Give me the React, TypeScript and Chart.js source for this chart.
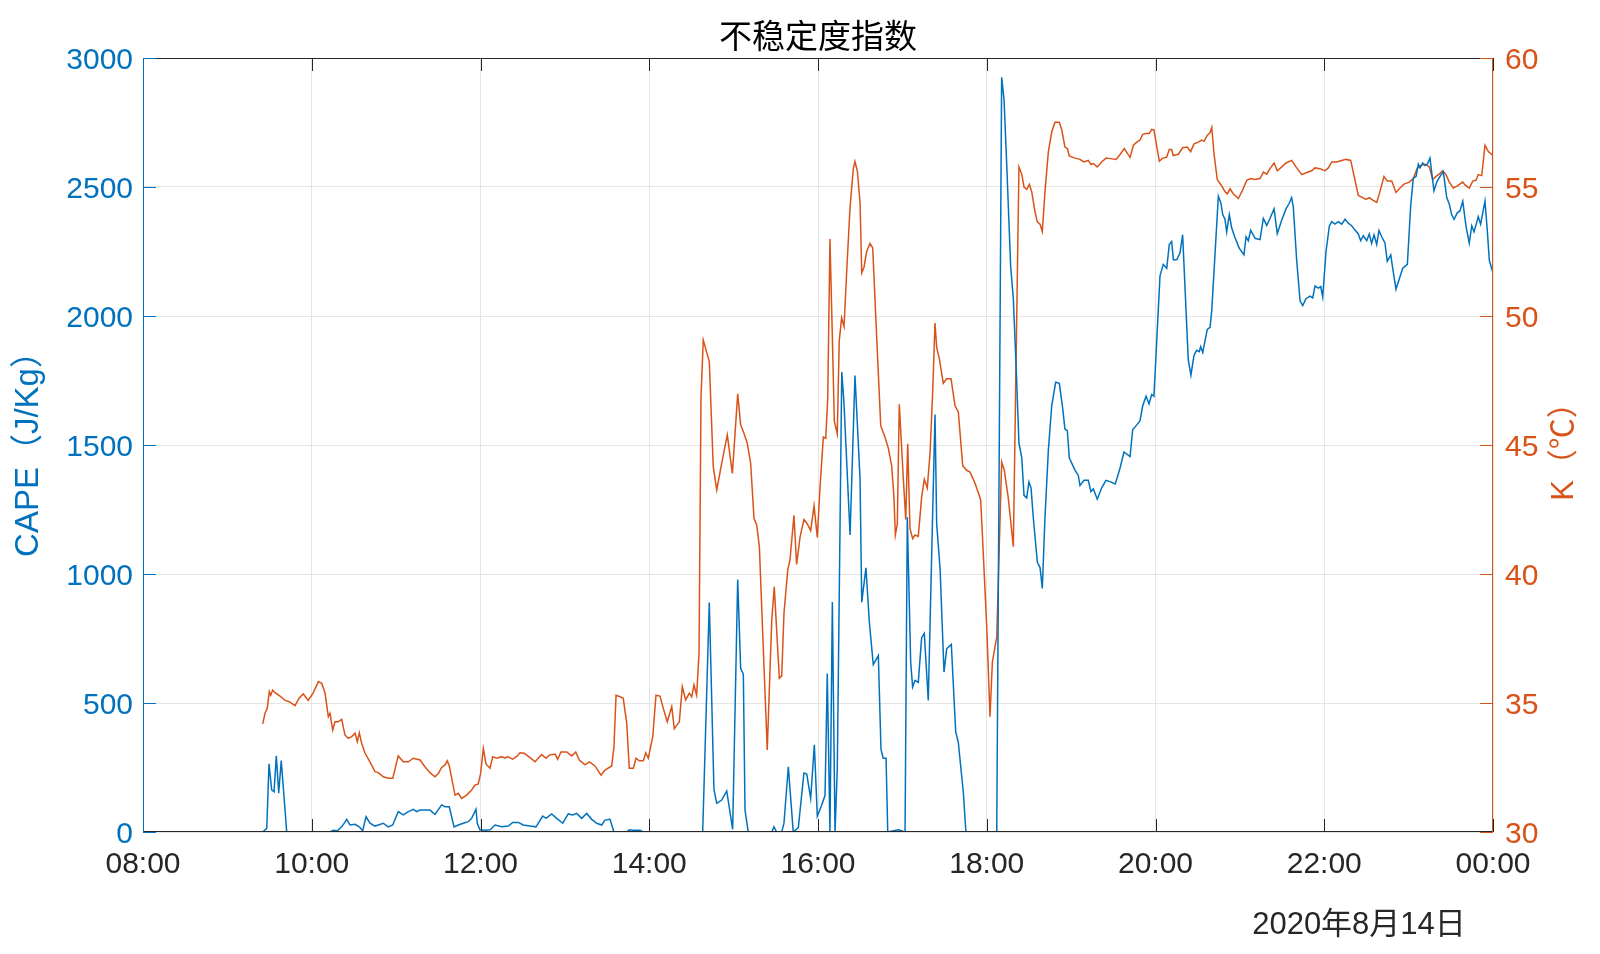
import React, { useEffect, useRef } from "react";
import { Chart, registerables } from "chart.js";

Chart.register(...registerables);

// ---------- text ----------
const chartTitle = "不稳定度指数";
const dateLabel = "2020年8月14日";
const capeAxisTitle = "CAPE（J/Kg）";
const kAxisTitle = "K（℃）";

// ---------- ticks ----------
const xTickMinutes = [480, 600, 720, 840, 960, 1080, 1200, 1320, 1440];
const xTickLabels = ["08:00", "10:00", "12:00", "14:00", "16:00", "18:00", "20:00", "22:00", "00:00"];
const capeTicks = [0, 500, 1000, 1500, 2000, 2500, 3000];
const kTicks = [30, 35, 40, 45, 50, 55, 60];

// ---------- CAPE series (time = minutes of the day) ----------
const capeTime = [
  565.1, 568.0, 569.6, 571.5, 573.2, 574.8, 576.5, 578.3, 582.2, 613.0,
  615.3, 618.2, 621.3, 624.9, 627.2, 630.8, 633.8, 636.2, 638.6, 641.4,
  645.0, 647.3, 650.9, 654.4, 657.6, 661.5, 665.1, 668.7, 672.2, 674.6,
  677.0, 680.5, 684.1, 687.6, 692.4, 694.8, 697.8, 701.2, 704.2, 707.8,
  711.3, 713.7, 716.8, 717.7, 719.6, 723.2, 726.8, 730.3, 735.1, 739.8,
  742.9, 746.9, 750.4, 755.2, 759.5, 761.8, 764.2, 766.6, 770.6, 774.2,
  778.5, 782.4, 785.6, 788.4, 792.0, 795.5, 799.1, 802.6, 806.2, 808.5,
  812.1, 814.9, 824.0, 825.8, 828.4, 833.4, 835.6, 878.0, 882.7, 886.0,
  888.0, 891.5, 895.1, 899.3, 902.9, 905.0, 906.9, 908.1, 910.4, 927.1,
  928.7, 930.6, 934.2, 935.8, 938.9, 942.4, 946.0, 950.0, 952.0, 954.8,
  957.4, 959.5, 962.6, 965.0, 966.6, 968.5, 970.2, 972.1, 973.7, 976.9,
  978.5, 982.8, 986.3, 989.9, 991.1, 994.1, 996.5, 999.3, 1002.9, 1004.8,
  1006.4, 1008.4, 1009.6, 1017.1, 1021.9, 1023.5, 1025.9, 1027.3, 1029.0, 1031.3,
  1033.7, 1035.6, 1038.4, 1043.2, 1044.4, 1046.8, 1049.6, 1051.5, 1054.8, 1057.9,
  1059.8, 1063.3, 1065.2, 1087.1, 1090.6, 1092.3, 1094.2, 1097.0, 1098.9, 1100.8,
  1102.9, 1104.9, 1106.5, 1108.4, 1110.0, 1111.5, 1113.1, 1116.0, 1117.9, 1119.5,
  1121.4, 1123.8, 1126.2, 1129.0, 1131.6, 1134.0, 1135.6, 1137.3, 1138.7, 1142.8,
  1145.1, 1146.3, 1149.2, 1152.2, 1154.1, 1155.8, 1158.6, 1161.7, 1164.8, 1168.1,
  1171.4, 1174.8, 1177.6, 1181.9, 1183.8, 1186.6, 1189.0, 1190.9, 1193.3, 1195.4,
  1197.3, 1198.9, 1203.2, 1205.5, 1208.0, 1209.8, 1211.5, 1212.7, 1215.1, 1217.4,
  1219.3, 1223.3, 1225.2, 1227.4, 1229.3, 1231.1, 1232.1, 1233.6, 1236.8, 1238.8,
  1240.0, 1244.7, 1246.4, 1247.8, 1249.4, 1250.6, 1252.5, 1254.2, 1256.5, 1259.6,
  1262.9, 1264.4, 1266.0, 1267.7, 1270.8, 1274.3, 1276.7, 1279.1, 1281.4, 1284.3,
  1286.6, 1289.7, 1292.8, 1295.1, 1296.8, 1298.0, 1300.4, 1302.8, 1304.7, 1307.0,
  1309.9, 1311.8, 1313.4, 1315.8, 1317.5, 1318.9, 1321.3, 1323.6, 1325.3, 1327.6,
  1330.0, 1332.4, 1334.8, 1337.1, 1339.5, 1341.9, 1344.2, 1345.9, 1347.8, 1350.2,
  1352.0, 1353.7, 1355.4, 1357.3, 1358.9, 1360.9, 1363.2, 1364.8, 1367.3, 1368.7,
  1371.0, 1373.4, 1375.8, 1379.1, 1381.5, 1383.3, 1385.3, 1386.9, 1388.1, 1390.0,
  1391.7, 1393.3, 1395.2, 1398.0, 1400.0, 1402.3, 1404.7, 1407.1, 1408.9, 1410.6,
  1412.3, 1414.6, 1416.5, 1418.5, 1420.8, 1423.1, 1424.9, 1426.5, 1428.4, 1429.5,
  1431.2, 1432.7, 1434.3, 1436.0, 1437.4, 1439.8,
];
const capeValue = [
  0, 14, 264, 163, 156, 295, 150, 277, 0, 0,
  7, 5, 20, 49, 27, 30, 20, 5, 59, 34,
  23, 27, 34, 20, 27, 79, 66, 79, 88, 79,
  85, 85, 85, 68, 105, 98, 98, 20, 27, 34,
  40, 53, 88, 34, 9, 7, 9, 27, 20, 23,
  37, 37, 27, 23, 20, 40, 62, 53, 70, 53,
  34, 70, 66, 72, 53, 72, 49, 34, 27, 46,
  49, 0, 0, 9, 7, 7, 0, 0, 889, 165,
  111, 124, 159, 10, 979, 634, 612, 85, 0, 0,
  20, 0, 0, 34, 253, 0, 17, 229, 225, 130,
  338, 61, 104, 142, 614, 0, 891, 0, 242, 1783,
  1661, 1151, 1769, 1367, 891, 1024, 814, 649, 684, 320,
  286, 286, 0, 9, 0, 1220, 658, 562, 588, 580,
  753, 770, 510, 1618, 1194, 1021, 620, 710, 727, 390,
  346, 156, 0, 0, 2925, 2838, 2587, 2192, 2067, 1816,
  1508, 1450, 1305, 1295, 1357, 1334, 1218, 1045, 1025, 944,
  1218, 1479, 1652, 1743, 1739, 1642, 1562, 1556, 1450, 1402,
  1382, 1343, 1363, 1363, 1319, 1330, 1290, 1334, 1363, 1357,
  1349, 1411, 1473, 1455, 1560, 1577, 1594, 1652, 1689, 1659,
  1696, 1689, 2156, 2200, 2185, 2277, 2289, 2218, 2218, 2244,
  2315, 1830, 1771, 1848, 1867, 1862, 1881, 1859, 1948, 1956,
  2022, 2464, 2440, 2393, 2375, 2326, 2393, 2341, 2304, 2262,
  2237, 2307, 2292, 2333, 2301, 2296, 2378, 2351, 2378, 2415,
  2319, 2371, 2415, 2437, 2459, 2422, 2215, 2059, 2040, 2067,
  2077, 2070, 2116, 2108, 2114, 2074, 2252, 2348, 2366, 2356,
  2366, 2356, 2375, 2360, 2350, 2333, 2318, 2292, 2311, 2292,
  2318, 2282, 2315, 2277, 2331, 2307, 2282, 2212, 2237, 2185,
  2104, 2144, 2185, 2200, 2430, 2533, 2541, 2588, 2574, 2593,
  2583, 2588, 2612, 2485, 2519, 2541, 2559, 2459, 2434, 2393,
  2375, 2400, 2407, 2445, 2348, 2282, 2350, 2326, 2363, 2385,
  2356, 2400, 2445, 2326, 2215, 2170,
];

// ---------- K index series (time = minutes of the day) ----------
const kTime = [
  565.1, 566.8, 568.4, 569.8, 570.8, 572.2, 573.9, 577.4, 581.0, 584.0,
  588.1, 591.1, 594.0, 597.5, 601.1, 604.7, 607.1, 609.4, 611.8, 613.0,
  614.9, 616.5, 618.9, 621.3, 623.6, 626.0, 628.4, 630.8, 632.4, 633.8,
  635.5, 637.9, 641.4, 645.0, 647.3, 650.9, 654.4, 657.6, 661.5, 665.1,
  668.7, 672.2, 677.0, 680.5, 684.1, 687.6, 690.0, 692.4, 694.8, 696.4,
  697.8, 701.9, 704.2, 706.6, 710.2, 713.7, 716.1, 718.4, 720.1, 722.0,
  723.9, 726.8, 728.7, 731.5, 735.1, 737.4, 739.1, 742.9, 746.2, 748.1,
  751.1, 755.2, 758.8, 763.5, 766.6, 768.9, 773.0, 774.9, 777.2, 781.3,
  784.9, 787.7, 790.3, 794.3, 797.4, 801.4, 805.7, 808.5, 813.3, 814.9,
  816.4, 819.2, 821.5, 824.0, 825.8, 828.7, 830.6, 832.9, 835.8, 837.5,
  839.3, 842.5, 844.8, 847.6, 850.0, 852.8, 856.0, 857.8, 861.4, 863.5,
  865.9, 868.5, 870.2, 871.8, 873.7, 875.4, 876.8, 878.4, 882.7, 885.5,
  888.0, 891.5, 895.5, 899.1, 902.9, 905.0, 907.4, 909.7, 912.1, 914.5,
  916.4, 918.3, 923.9, 927.1, 928.9, 932.5, 934.2, 935.8, 938.5, 940.1,
  942.9, 944.8, 947.2, 950.0, 952.4, 954.8, 957.2, 959.5, 961.4, 963.8,
  965.5, 966.9, 968.5, 970.2, 971.6, 973.7, 975.1, 976.8, 978.5, 980.8,
  982.8, 985.1, 986.3, 988.0, 989.9, 991.1, 992.7, 994.6, 997.0, 998.9,
  1001.7, 1004.6, 1007.6, 1010.0, 1012.4, 1014.0, 1015.0, 1016.4, 1017.8, 1020.7,
  1022.4, 1023.8, 1025.4, 1027.3, 1029.0, 1031.3, 1033.7, 1035.6, 1037.7, 1039.7,
  1041.6, 1043.2, 1044.4, 1046.3, 1049.1, 1051.5, 1054.6, 1057.4, 1059.8, 1062.9,
  1065.7, 1068.1, 1071.6, 1074.0, 1075.7, 1077.5, 1080.0, 1082.3, 1084.0, 1087.1,
  1090.6, 1092.5, 1095.3, 1098.9, 1102.9, 1104.9, 1106.5, 1108.4, 1110.3, 1112.0,
  1114.3, 1115.9, 1117.9, 1119.5, 1121.4, 1123.8, 1126.2, 1128.5, 1131.6, 1133.3,
  1135.6, 1137.3, 1138.7, 1142.8, 1146.3, 1149.1, 1152.2, 1154.1, 1155.8, 1158.6,
  1161.7, 1164.8, 1168.1, 1171.9, 1174.8, 1177.8, 1180.0, 1181.9, 1184.3, 1186.7,
  1189.0, 1190.9, 1193.3, 1195.6, 1197.3, 1198.9, 1202.7, 1205.1, 1207.9, 1209.8,
  1211.5, 1212.6, 1216.2, 1219.3, 1222.6, 1225.0, 1227.4, 1230.4, 1232.8, 1234.5,
  1236.8, 1238.7, 1240.0, 1241.6, 1243.9, 1247.1, 1249.4, 1251.1, 1253.0, 1255.3,
  1258.9, 1262.0, 1264.9, 1267.7, 1270.8, 1274.3, 1276.7, 1279.1, 1281.4, 1284.3,
  1286.6, 1289.8, 1292.8, 1296.9, 1299.9, 1304.0, 1307.5, 1311.1, 1313.4, 1317.0,
  1320.5, 1322.9, 1325.3, 1328.9, 1332.4, 1335.5, 1338.8, 1341.9, 1344.2, 1347.3,
  1349.7, 1352.0, 1354.5, 1357.3, 1359.6, 1362.5, 1364.8, 1368.0, 1371.0, 1373.9,
  1376.7, 1380.5, 1383.3, 1386.2, 1389.3, 1392.3, 1394.7, 1397.1, 1399.5, 1402.3,
  1404.2, 1406.6, 1408.9, 1411.8, 1414.6, 1418.5, 1420.1, 1423.1, 1425.6, 1427.9,
  1429.5, 1432.0, 1434.3, 1436.7, 1439.8,
];
const kValue = [
  34.19, 34.6, 34.8, 35.44, 35.3, 35.5, 35.4, 35.27, 35.1, 35.05,
  34.9, 35.2, 35.35, 35.1, 35.4, 35.83, 35.76, 35.4, 34.47, 34.6,
  33.95, 34.27, 34.27, 34.37, 33.76, 33.63, 33.7, 33.83, 33.5, 33.85,
  33.44, 33.05, 32.72, 32.34, 32.3, 32.14, 32.08, 32.08, 32.95, 32.72,
  32.72, 32.86, 32.79, 32.53, 32.3, 32.14, 32.27, 32.5, 32.6, 32.76,
  32.56, 31.43, 31.5, 31.3, 31.43, 31.63, 31.82, 31.86, 32.27, 33.24,
  32.64, 32.47, 32.92, 32.86, 32.92, 32.86, 32.92, 32.82, 32.95, 33.07,
  33.05, 32.88, 32.72, 33.0, 32.86, 32.98, 33.02, 32.82, 33.1, 33.1,
  32.95, 33.1, 32.79, 32.6, 32.72, 32.56, 32.2, 32.4, 32.56, 33.3,
  35.3, 35.24, 35.18, 34.21, 32.47, 32.47, 32.86, 32.76, 32.76, 33.07,
  32.86, 33.7, 35.3, 35.27, 34.79, 34.27, 34.86, 34.0, 34.27, 35.63,
  35.12, 35.38, 35.24, 35.7, 35.3, 36.93, 46.87, 49.07, 48.23, 44.16,
  43.26, 44.29, 45.39, 43.9, 46.98, 45.78, 45.45, 45.07, 44.29, 42.16,
  41.9, 41.06, 33.18, 38.2, 39.5, 35.96, 36.05, 38.48, 40.16, 40.56,
  42.27, 40.37, 41.42, 42.11, 41.94, 41.68, 42.64, 41.42, 43.33, 45.31,
  45.26, 46.79, 52.98, 49.21, 45.92, 45.43, 49.03, 49.93, 49.59, 52.15,
  54.22, 55.7, 55.99, 55.61, 54.4, 51.67, 51.89, 52.5, 52.81, 52.64,
  49.21, 45.75, 45.31, 44.88, 44.19, 42.98, 41.51, 41.94, 46.58, 43.67,
  42.11, 45.05, 41.77, 41.37, 41.51, 41.46, 42.98, 43.67, 43.33, 44.71,
  47.13, 49.73, 48.78, 48.34, 47.39, 47.57, 47.57, 46.53, 46.27, 44.2,
  44.02, 43.95, 43.53, 43.15, 42.86, 40.83, 37.94, 34.47, 36.59, 37.55,
  44.34, 44.02, 42.95, 41.06, 55.78, 55.49, 55.0, 54.91, 55.1, 54.81,
  54.04, 53.65, 53.56, 53.27, 54.81, 56.36, 57.13, 57.51, 57.51, 57.22,
  56.55, 56.49, 56.2, 56.12, 56.07, 55.97, 56.03, 55.87, 55.91, 55.78,
  55.97, 56.12, 56.1, 56.07, 56.26, 56.49, 56.3, 56.15, 56.62, 56.74,
  56.82, 57.04, 57.07, 57.07, 57.23, 57.21, 56.0, 56.12, 56.15, 56.45,
  56.45, 56.22, 56.27, 56.52, 56.55, 56.37, 56.67, 56.74, 56.82, 56.77,
  57.0, 57.1, 57.31, 56.3, 55.29, 55.04, 54.82, 54.74, 54.93, 54.74,
  54.55, 54.89, 55.26, 55.33, 55.29, 55.33, 55.58, 55.5, 55.71, 55.93,
  55.63, 55.78, 55.93, 56.03, 55.78, 55.48, 55.56, 55.63, 55.74, 55.71,
  55.63, 55.74, 55.97, 55.97, 56.03, 56.07, 56.03, 55.26, 54.67, 54.59,
  54.52, 54.59, 54.49, 54.4, 54.82, 55.41, 55.23, 55.23, 54.79, 54.96,
  55.11, 55.19, 55.33, 55.74, 55.85, 55.88, 55.78, 55.29, 55.41, 55.53,
  55.63, 55.48, 55.19, 54.96, 55.04, 55.19, 55.08, 54.96, 55.23, 55.26,
  55.48, 55.44, 56.62, 56.37, 56.22,
];

// ---------- styles ----------
const BLUE = "#0072BD";
const ORANGE = "#D95319";
const AXIS = "#262626";
const GRID = "#e5e5e5";
const LATIN = '"Liberation Sans", Arial, "Noto Sans CJK SC", sans-serif';
const CJK = '"Noto Sans CJK SC", sans-serif';
const TICK_LEN = 13;
const TICK_FONT = 30;

const decorPlugin = {
  id: "decor",
  afterDatasetsDraw(chart: any) {
    const { ctx, chartArea: a, scales } = chart;
    ctx.save();
    ctx.lineWidth = 1;
    // box
    ctx.strokeStyle = AXIS;
    ctx.beginPath();
    ctx.moveTo(a.left, a.top + 0.5);
    ctx.lineTo(a.right, a.top + 0.5);
    ctx.moveTo(a.left, a.bottom - 0.5);
    ctx.lineTo(a.right, a.bottom - 0.5);
    ctx.stroke();
    // x ticks (inward, top and bottom)
    ctx.beginPath();
    for (const v of xTickMinutes) {
      const px = Math.round(scales.x.getPixelForValue(v)) + 0.5;
      ctx.moveTo(px, a.bottom);
      ctx.lineTo(px, a.bottom - TICK_LEN);
      ctx.moveTo(px, a.top);
      ctx.lineTo(px, a.top + TICK_LEN);
    }
    ctx.stroke();
    // left axis
    ctx.strokeStyle = BLUE;
    ctx.beginPath();
    ctx.moveTo(a.left + 0.5, a.top);
    ctx.lineTo(a.left + 0.5, a.bottom);
    for (const v of capeTicks) {
      const py = Math.round(scales.y.getPixelForValue(v)) + 0.5;
      ctx.moveTo(a.left, py);
      ctx.lineTo(a.left + TICK_LEN, py);
    }
    ctx.stroke();
    // right axis
    ctx.strokeStyle = ORANGE;
    ctx.beginPath();
    ctx.moveTo(a.right - 0.5, a.top);
    ctx.lineTo(a.right - 0.5, a.bottom);
    for (const v of kTicks) {
      const py = Math.round(scales.y1.getPixelForValue(v)) + 0.5;
      ctx.moveTo(a.right, py);
      ctx.lineTo(a.right - TICK_LEN, py);
    }
    ctx.stroke();
    ctx.restore();
  },
  afterDraw(chart: any) {
    const { ctx, chartArea: a } = chart;
    ctx.save();
    ctx.textAlign = "center";
    ctx.textBaseline = "middle";
    // title
    ctx.fillStyle = "#000000";
    ctx.font = `33px ${CJK}`;
    ctx.fillText(chartTitle, (a.left + a.right) / 2, 35);
    // date label
    ctx.fillStyle = AXIS;
    ctx.font = `31px ${LATIN}`;
    ctx.fillText(dateLabel, 1359, 925);
    // left axis title
    ctx.save();
    ctx.translate(29, 446);
    ctx.rotate(-Math.PI / 2);
    ctx.fillStyle = BLUE;
    ctx.font = `33px ${LATIN}`;
    ctx.fillText(capeAxisTitle, 0, 0);
    ctx.restore();
    // right axis title
    ctx.save();
    ctx.translate(1564, 444);
    ctx.rotate(-Math.PI / 2);
    ctx.fillStyle = ORANGE;
    ctx.font = `31px ${LATIN}`;
    ctx.fillText(kAxisTitle, 0, 0);
    ctx.restore();
    ctx.restore();
  },
};

export default function App() {
  const canvasRef = useRef<HTMLCanvasElement | null>(null);

  useEffect(() => {
    document.body.style.margin = "0";
    const canvas = canvasRef.current;
    if (!canvas) return;
    const capeData = capeTime.map((t, i) => ({ x: t, y: capeValue[i] }));
    const kData = kTime.map((t, i) => ({ x: t, y: kValue[i] }));

    const chart = new Chart(canvas, {
      type: "line",
      data: {
        datasets: [
          {
            label: "CAPE",
            data: capeData,
            yAxisID: "y",
            borderColor: BLUE,
            borderWidth: 1.5,
            pointRadius: 0,
            tension: 0,
            fill: false,
          },
          {
            label: "K",
            data: kData,
            yAxisID: "y1",
            borderColor: ORANGE,
            borderWidth: 1.5,
            pointRadius: 0,
            tension: 0,
            fill: false,
          },
        ],
      },
      options: {
        animation: false,
        responsive: false,
        devicePixelRatio: 1,
        parsing: false,
        normalized: true,
        layout: { padding: { top: 58, left: 0, right: 0, bottom: 0 } },
        plugins: {
          legend: { display: false },
          title: { display: false },
          tooltip: { enabled: false },
        },
        scales: {
          x: {
            type: "linear",
            position: "bottom",
            min: 480,
            max: 1440,
            afterBuildTicks: (s: any) => {
              s.ticks = xTickMinutes.map((v) => ({ value: v }));
            },
            afterFit: (s: any) => {
              s.height = 122;
            },
            ticks: {
              autoSkip: false,
              maxRotation: 0,
              padding: 15,
              color: AXIS,
              font: { family: LATIN, size: TICK_FONT },
              callback: (v: any) => {
                const i = xTickMinutes.indexOf(Number(v));
                return i >= 0 ? xTickLabels[i] : "";
              },
            },
            grid: { color: GRID, lineWidth: 1, drawTicks: false },
            border: { display: false },
          },
          y: {
            type: "linear",
            position: "left",
            min: 0,
            max: 3000,
            afterBuildTicks: (s: any) => {
              s.ticks = capeTicks.map((v) => ({ value: v }));
            },
            afterFit: (s: any) => {
              s.width = 143;
            },
            ticks: {
              padding: 10,
              labelOffset: 3,
              color: BLUE,
              font: { family: LATIN, size: TICK_FONT },
              callback: (v: any) => String(v),
            },
            grid: { color: GRID, lineWidth: 1, drawTicks: false },
            border: { display: false },
          },
          y1: {
            type: "linear",
            position: "right",
            min: 30,
            max: 60,
            afterBuildTicks: (s: any) => {
              s.ticks = kTicks.map((v) => ({ value: v }));
            },
            afterFit: (s: any) => {
              s.width = 107;
            },
            ticks: {
              padding: 12,
              labelOffset: 3,
              color: ORANGE,
              font: { family: LATIN, size: TICK_FONT },
              callback: (v: any) => String(v),
            },
            grid: { display: false, drawTicks: false },
            border: { display: false },
          },
        },
      } as any,
      plugins: [decorPlugin],
    });
    return () => chart.destroy();
  }, []);

  return (
    <div style={{ width: 1600, height: 954, background: "#ffffff" }}>
      <canvas ref={canvasRef} width={1600} height={954} style={{ display: "block" }} />
    </div>
  );
}
